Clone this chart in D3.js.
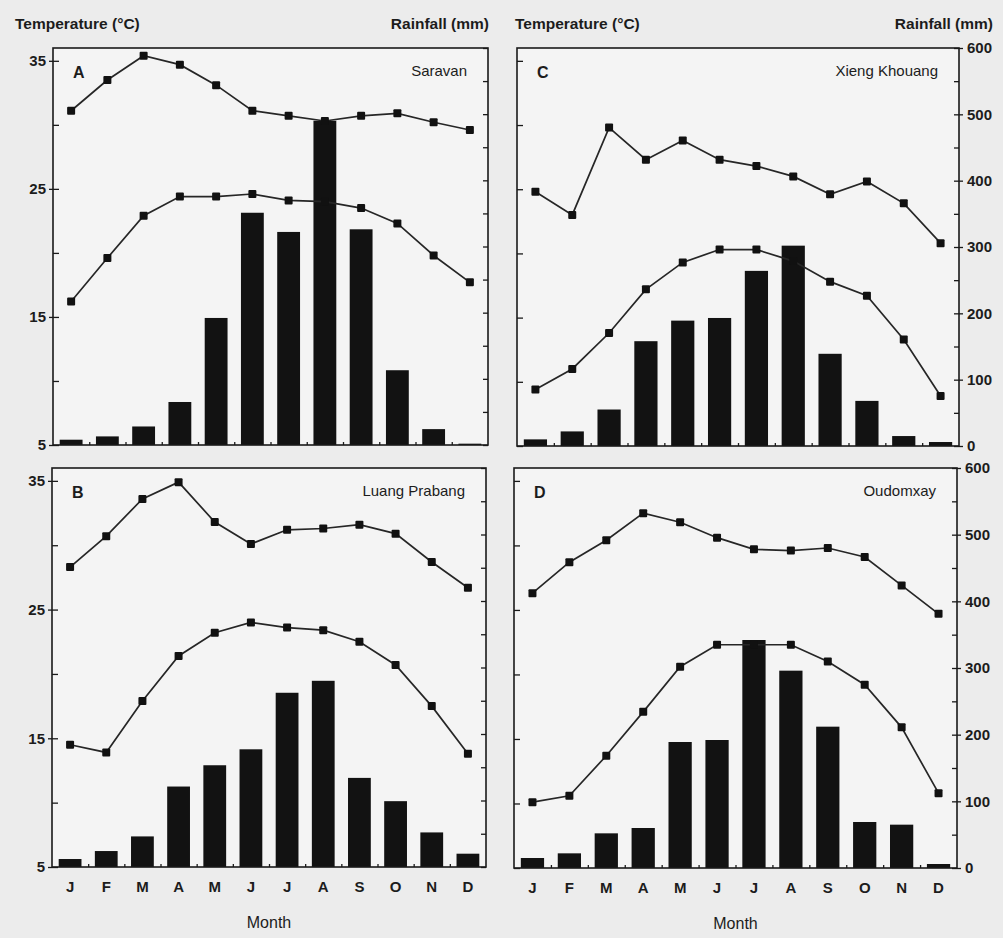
<!DOCTYPE html>
<html>
<head>
<meta charset="utf-8">
<script src="https://cdn.jsdelivr.net/npm/d3@7"></script>
<style>
    body { margin: 0; background: #ececec; }
    text { font-family: "Liberation Sans", Arial, sans-serif; fill: #1c1c1c; }
</style>
</head>
<body>
<div id="climateChart"></div>
<script>
    "use strict";

    var months = ["J", "F", "M", "A", "M", "J", "J", "A", "S", "O", "N", "D"];
    var tempTicks = [5, 10, 15, 20, 25, 30, 35];
    var tempLabels = [5, 15, 25, 35];
    var rainTicks = [0, 50, 100, 150, 200, 250, 300, 350, 400, 450, 500, 550, 600];
    var rainLabels = [0, 100, 200, 300, 400, 500, 600];

    // A - Saravan
    var saravanRain = [8, 13, 28, 65, 192, 351, 322, 490, 326, 113, 24, 2];
    var saravanMax = [31.1, 33.5, 35.4, 34.7, 33.1, 31.1, 30.7, 30.3, 30.7, 30.9, 30.2, 29.6];
    var saravanMin = [16.2, 19.6, 22.9, 24.4, 24.4, 24.6, 24.1, 24.0, 23.5, 22.3, 19.8, 17.7];

    // B - Luang Prabang
    var luangRain = [12, 24, 46, 121, 153, 177, 262, 280, 134, 99, 52, 20];
    var luangMax = [28.3, 30.7, 33.6, 34.9, 31.8, 30.1, 31.2, 31.3, 31.6, 30.9, 28.7, 26.7];
    var luangMin = [14.5, 13.9, 17.9, 21.4, 23.2, 24.0, 23.6, 23.4, 22.5, 20.7, 17.5, 13.8];

    // C - Xieng Khouang
    var xiengRain = [10, 22, 55, 158, 189, 193, 264, 302, 139, 68, 15, 6];
    var xiengMax = [24.8, 23.0, 29.8, 27.3, 28.8, 27.3, 26.8, 26.0, 24.6, 25.6, 23.9, 20.8];
    var xiengMin = [9.4, 11.0, 13.8, 17.2, 19.3, 20.3, 20.3, 19.4, 17.8, 16.7, 13.3, 8.9];

    // D - Oudomxay
    var oudomRain = [15, 22, 52, 60, 189, 192, 342, 296, 212, 69, 65, 6];
    var oudomMax = [26.3, 28.7, 30.4, 32.5, 31.8, 30.6, 29.7, 29.6, 29.8, 29.1, 26.9, 24.7];
    var oudomMin = [10.1, 10.6, 13.7, 17.1, 20.6, 22.3, 22.3, 22.3, 21.0, 19.2, 15.9, 10.8];

    var stationNames = ["Saravan", "Luang Prabang", "Xieng Khouang", "Oudomxay"];
    var panelLetters = ["A", "B", "C", "D"];

    var stations = [
        { name: stationNames[0], letter: panelLetters[0], rain: saravanRain, tmax: saravanMax, tmin: saravanMin },
        { name: stationNames[1], letter: panelLetters[1], rain: luangRain, tmax: luangMax, tmin: luangMin },
        { name: stationNames[2], letter: panelLetters[2], rain: xiengRain, tmax: xiengMax, tmin: xiengMin },
        { name: stationNames[3], letter: panelLetters[3], rain: oudomRain, tmax: oudomMax, tmin: oudomMin }
    ];

    // frame boxes of the four panels (the scan is slightly skewed)
    var boxes = [
        { x0: 53, x1: 488, y0: 48, y1: 445, left: true, right: false, bottom: false },
        { x0: 52, x1: 486, y0: 468, y1: 867, left: true, right: false, bottom: true },
        { x0: 517, x1: 959, y0: 48, y1: 446, left: false, right: true, bottom: false },
        { x0: 514, x1: 957, y0: 468, y1: 868, left: false, right: true, bottom: true }
    ];

    var width = 1003;
    var height = 938;
    var ink = "#1a1a1a";

    var svg = d3.select("#climateChart").append("svg")
        .attr("width", width)
        .attr("height", height);

    // headers
    [15, 515].forEach(function (x) {
        svg.append("text")
            .text("Temperature (°C)")
            .attr("x", x)
            .attr("y", 29)
            .attr("font-size", 15.5)
            .attr("font-weight", "bold");
    });
    [489, 993].forEach(function (x) {
        svg.append("text")
            .text("Rainfall (mm)")
            .attr("x", x)
            .attr("y", 29)
            .attr("text-anchor", "end")
            .attr("font-size", 15.5)
            .attr("font-weight", "bold");
    });

    function styleAxis(sel, size, weight) {
        sel.select(".domain").remove();
        sel.selectAll(".tick line").attr("stroke", ink).attr("stroke-width", 1.3);
        sel.selectAll(".tick text")
            .attr("font-size", size)
            .attr("font-weight", weight)
            .attr("font-family", "Liberation Sans, Arial, sans-serif")
            .attr("fill", ink);
    }

    stations.forEach(function (s, k) {
        var b = boxes[k];
        var w = b.x1 - b.x0;
        var h = b.y1 - b.y0;

        var g = svg.append("g")
            .attr("class", "panel")
            .attr("transform", "translate(" + b.x0 + "," + b.y0 + ")");

        var x = d3.scaleBand()
            .domain(d3.range(12))
            .range([0, w])
            .paddingInner(0.37)
            .paddingOuter(0.185);
        var xEdge = d3.scaleLinear().domain([0, 12]).range([0, w]);
        var yT = d3.scaleLinear().domain([5, 36]).range([h, 0]);
        var yR = d3.scaleLinear().domain([0, 600]).range([h, 0]);

        g.append("rect")
            .attr("width", w)
            .attr("height", h)
            .attr("fill", "#f4f4f4");

        // rainfall bars
        g.selectAll(".bar")
            .data(s.rain)
            .enter()
            .append("rect")
            .attr("class", "bar")
            .attr("x", function (d, i) { return x(i); })
            .attr("y", function (d) { return yR(d); })
            .attr("width", x.bandwidth())
            .attr("height", function (d) { return h - yR(d); })
            .attr("fill", "#121212");

        // temperature lines
        var line = d3.line()
            .x(function (d, i) { return x(i) + x.bandwidth() / 2; })
            .y(function (d) { return yT(d); });

        [s.tmax, s.tmin].forEach(function (series) {
            g.append("path")
                .datum(series)
                .attr("d", line)
                .attr("fill", "none")
                .attr("stroke", "#262626")
                .attr("stroke-width", 1.7);
            g.selectAll(null)
                .data(series)
                .enter()
                .append("rect")
                .attr("x", function (d, i) { return x(i) + x.bandwidth() / 2 - 4; })
                .attr("y", function (d) { return yT(d) - 4; })
                .attr("width", 8)
                .attr("height", 8)
                .attr("rx", 1)
                .attr("fill", "#111");
        });

        // left axis (temperature)
        g.append("g")
            .call(d3.axisLeft(yT).tickValues(tempTicks).tickSize(-6).tickFormat(""))
            .call(styleAxis, 15, "bold");
        if (b.left) {
            g.append("g")
                .call(d3.axisLeft(yT).tickValues(tempLabels).tickSize(4).tickPadding(3))
                .call(styleAxis, 15, "bold");
        }

        // right axis (rainfall)
        g.append("g")
            .attr("transform", "translate(" + w + ",0)")
            .call(d3.axisRight(yR).tickValues(rainTicks).tickSize(-5).tickFormat(""))
            .call(styleAxis, 15, "bold");
        if (b.right) {
            g.append("g")
                .attr("transform", "translate(" + w + ",0)")
                .call(d3.axisRight(yR).tickValues(rainLabels).tickSize(4).tickPadding(4))
                .call(styleAxis, 15, "bold");
        }

        // bottom axis: small ticks between months
        g.append("g")
            .attr("transform", "translate(0," + h + ")")
            .call(d3.axisBottom(xEdge).tickValues(d3.range(1, 12)).tickSize(-3).tickFormat(""))
            .call(styleAxis, 15, "bold");
        if (b.bottom) {
            g.append("g")
                .attr("transform", "translate(0," + h + ")")
                .call(d3.axisBottom(x).tickSize(0).tickPadding(14).tickFormat(function (i) { return months[i]; }))
                .call(styleAxis, 15, "bold");

            g.append("text")
                .text("Month")
                .attr("x", w / 2)
                .attr("y", h + 61)
                .attr("text-anchor", "middle")
                .attr("font-size", 16);
        }

        // frame
        g.append("rect")
            .attr("width", w)
            .attr("height", h)
            .attr("fill", "none")
            .attr("stroke", ink)
            .attr("stroke-width", 1.6);

        g.append("text")
            .text(s.letter)
            .attr("x", 20)
            .attr("y", 30)
            .attr("font-size", 16)
            .attr("font-weight", "bold");

        g.append("text")
            .text(s.name)
            .attr("x", w - 21)
            .attr("y", 28)
            .attr("text-anchor", "end")
            .attr("font-size", 15);
    });
</script>
</body>
</html>
